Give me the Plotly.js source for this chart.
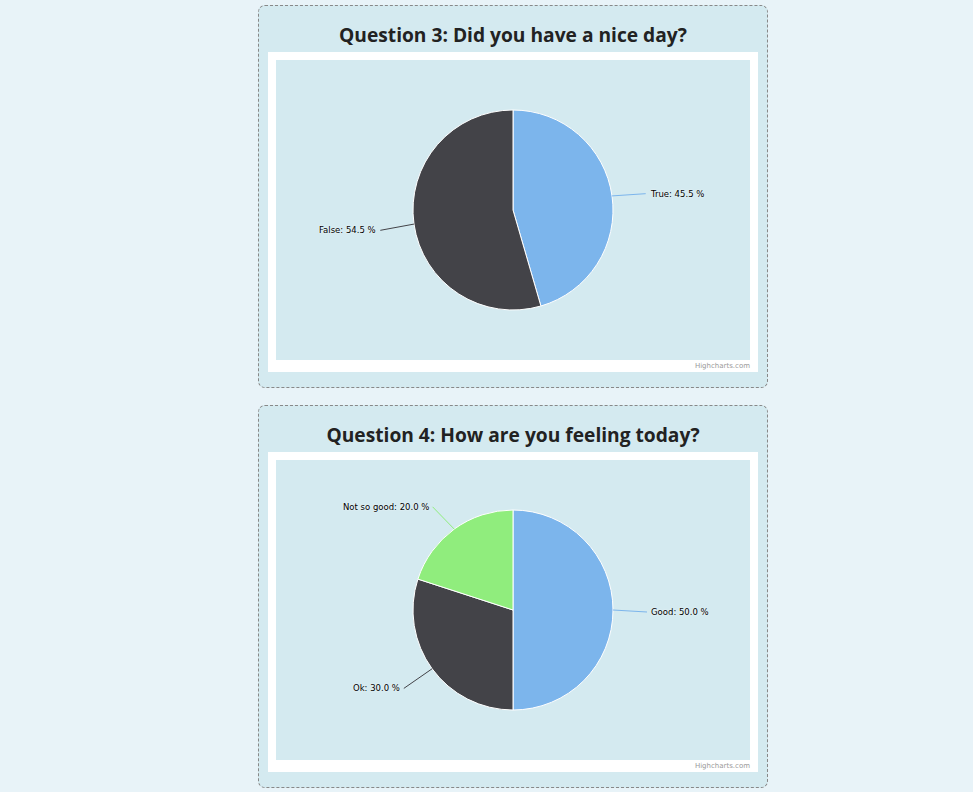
<!DOCTYPE html>
<html>
<head>
<meta charset="utf-8">
<script src="https://cdn.plot.ly/plotly-3.0.1.min.js"></script>
<style>
  html, body { margin:0; padding:0; width:973px; height:792px; background:#e8f3f8; overflow:hidden; }
  .card { position:absolute; left:258px; width:508px; height:381px; background:#d4eaf0;
          border:1px dashed #888; border-radius:7px; box-sizing:content-box; }
  .title { position:absolute; left:0; width:100%; top:15px; text-align:center;
           font-family:"Open Sans", sans-serif; font-weight:700; font-size:19.2px; color:#222; line-height:28px; }
  .frame { position:absolute; left:9px; top:46px; width:490px; height:320px; background:#fff; }
  .plot { position:absolute; left:8px; top:8px; width:474px; height:300px; }
  .credit { position:absolute; right:8px; bottom:1px; font-family:"DejaVu Sans", sans-serif;
            font-size:7px; color:#999; line-height:10px; }
</style>
</head>
<body>
<div class="card" style="top:5px;">
  <div class="title" id="t1"></div>
  <div class="frame"><div class="plot" id="p1"></div><div class="credit">Highcharts.com</div></div>
</div>
<div class="card" style="top:405px;">
  <div class="title" id="t2"></div>
  <div class="frame"><div class="plot" id="p2"></div><div class="credit">Highcharts.com</div></div>
</div>
<script>
// ---- data ----
const q3Title = "Question 3: Did you have a nice day?";
const q3Labels = ["True", "False"];
const q3Values = [45.5, 54.5];
const q3Colors = ["#7cb5ec", "#434348"];

const q4Title = "Question 4: How are you feeling today?";
const q4Labels = ["Good", "Ok", "Not so good"];
const q4Values = [50.0, 30.0, 20.0];
const q4Colors = ["#7cb5ec", "#434348", "#90ed7d"];

function drawPie(divId, titleId, title, labels, values, colors) {
  document.getElementById(titleId).textContent = title;
  const W = 474, H = 300;
  const domY = [1/6, 5/6];
  const r = (domY[1] - domY[0]) * H / 2;
  const cx = W / 2, cy = H * (1 - (domY[0] + domY[1]) / 2);
  const total = values.reduce((a, b) => a + b, 0);
  const annotations = [];
  let cum = 0;
  values.forEach((v, i) => {
    const mid = (cum + v / 2) / total * 2 * Math.PI;
    cum += v;
    const sx = Math.sin(mid), cyv = Math.cos(mid);
    const hx = cx + r * sx, hy = cy - r * cyv;
    const d = 30;
    const side = sx >= 0 ? 1 : -1;
    annotations.push({
      xref: 'paper', yref: 'paper',
      x: hx / W, y: 1 - hy / H,
      ax: d * sx + side * 4, ay: -d * cyv + 2,
      axref: 'pixel', ayref: 'pixel',
      text: labels[i] + ': ' + (v / total * 100).toFixed(1) + ' %',
      showarrow: true, arrowhead: 0, arrowwidth: 1, arrowcolor: colors[i], standoff: 0,
      xanchor: side > 0 ? 'left' : 'right', yanchor: 'middle',
      borderpad: 3,
      font: { family: 'DejaVu Sans, sans-serif', size: 8.5, color: '#000', shadow: '0 0 2px #fff' }
    });
  });
  const trace = {
    type: 'pie', labels: labels, values: values,
    marker: { colors: colors, line: { color: '#ffffff', width: 1 } },
    sort: false, direction: 'clockwise', rotation: 0,
    textinfo: 'none', hoverinfo: 'label+percent',
    domain: { x: [0, 1], y: domY }
  };
  Plotly.newPlot(divId, [trace], {
    width: W, height: H, margin: { l: 0, r: 0, t: 0, b: 0 },
    paper_bgcolor: '#d4eaf0', plot_bgcolor: '#d4eaf0', showlegend: false,
    annotations: annotations
  }, { displayModeBar: false, staticPlot: true });
}

drawPie('p1', 't1', q3Title, q3Labels, q3Values, q3Colors);
drawPie('p2', 't2', q4Title, q4Labels, q4Values, q4Colors);
</script>
</body>
</html>
